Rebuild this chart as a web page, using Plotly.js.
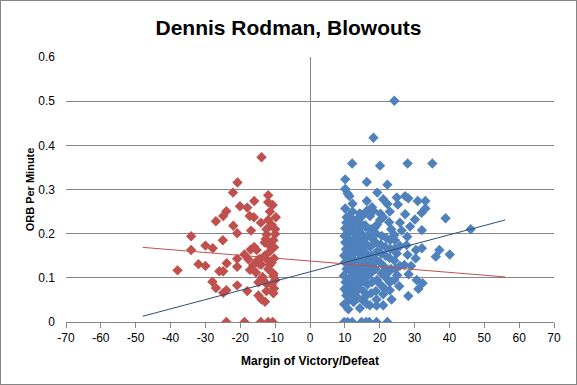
<!DOCTYPE html>
<html>
<head>
<meta charset="utf-8">
<script src="https://cdn.plot.ly/plotly-3.0.1.min.js"></script>
<style>
  html, body { margin: 0; padding: 0; background: #fff; }
  #chart { width: 575px; height: 383px; border: 1px solid #868686; }
</style>
</head>
<body>
<div id="chart"></div>
<script>
// Losses (red): margin of defeat vs ORB per minute
const redX = [-13.9,-20.8,-22.1,-12.0,-16.0,-12.0,-20.1,-18.0,-24.0,-10.7,
  -24.9,-17.3,-16.1,-9.8,-27.0,-22.0,-14.1,-12.0,-16.9,-20.9,
  -12.4,-10.0,-34.1,-25.0,-12.7,-30.0,-27.9,-34.1,-12.0,-10.3,
  -17.0,-15.3,-18.8,-20.9,-17.7,-14.4,-12.2,-10.3,-23.9,-32.0,
  -30.0,-20.9,-16.3,-14.5,-11.5,-38.0,-26.0,-24.9,-17.2,-15.5,
  -13.6,-10.5,-10.0,-28.0,-14.8,-20.9,-12.4,-27.0,-18.0,-10.3,
  -24.0,-24.9,-14.8,-13.9,-12.9,-24.0,-18.8,-14.1,-12.0,-10.7];
const redY = [0.373,0.316,0.293,0.287,0.274,0.271,0.262,0.259,0.251,0.265,
  0.240,0.240,0.237,0.237,0.228,0.218,0.225,0.231,0.207,0.201,
  0.198,0.199,0.194,0.185,0.188,0.173,0.167,0.163,0.176,0.169,
  0.164,0.163,0.153,0.143,0.142,0.143,0.140,0.144,0.133,0.131,
  0.127,0.125,0.129,0.131,0.129,0.117,0.115,0.115,0.118,0.112,
  0.102,0.110,0.095,0.091,0.090,0.083,0.086,0.077,0.070,0.076,
  0.072,0.066,0.060,0.051,0.046,0,0,0,0,0];
const redX2 = [-11.0,-12.5,-10.5,-11.5,-13.0,-11.0,-12.0,-10.5,-13.5,-11.0,-12.5,-10.5,-14.0,-15.0,-16.0,-13.0,-11.5,-10.0];
const redY2 = [0.220,0.210,0.185,0.160,0.150,0.135,0.120,0.105,0.095,0.085,0.070,0.065,0.130,0.140,0.170,0.180,0.250,0.210];

// Wins (blue): scattered points
const blueX = [24.2,18.2,12.1,20.1,28.0,35.1,
  10.1,16.3,22.2,10.1,10.8,19.3,11.3,21.0,27.3,24.9,16.3,28.2,12.2,22.2,
  25.2,30.9,33.1,10.1,12.2,16.3,18.2,14.3,22.9,27.3,33.1,32.0,38.9,30.1,
  21.0,20.1,17.2,10.5,13.4,22.7,25.8,28.7,32.1,46.1,10.1,12.4,15.8,18.6,
  24.2,26.3,27.9,32.1,37.1,36.1,40.1,30.4,27.7,25.8,24.9,28.0,30.3,24.2,
  25.8,27.1,29.0,22.7,25.0,28.3,30.6,32.3,31.1,25.6,22.9,28.2,21.0,19.1,
  23.4,21.0,17.2,14.3,11.0,19.1,16.3,
  9.8,10.8,12.1,14.8,16.1,17.0,19.1,22.2];
const blueY = [0.501,0.417,0.359,0.354,0.359,0.359,
  0.323,0.317,0.311,0.301,0.291,0.293,0.285,0.278,0.285,0.282,0.274,0.280,0.268,0.267,
  0.266,0.274,0.274,0.257,0.250,0.252,0.252,0.246,0.250,0.244,0.257,0.247,0.235,0.232,
  0.237,0.231,0.240,0.237,0.232,0.226,0.225,0.216,0.208,0.210,0.212,0.216,0.219,0.214,
  0.197,0.207,0.193,0.167,0.163,0.148,0.153,0.163,0.174,0.172,0.155,0.152,0.144,0.139,
  0.127,0.129,0.127,0.114,0.106,0.108,0.095,0.088,0.075,0.081,0.072,0.059,0.063,0.051,
  0.051,0.038,0.038,0.031,0.029,0.037,0.041,
  0,0,0,0,0,0,0,0];
// Wins (blue): dense cluster at margins 10-25
const blueX2 = [9.8,10.4,9.9,10.2,9.7,10.5,10.0,9.8,10.3,10.1,9.9,10.4,
  11.2,11.6,11.0,11.4,11.7,11.1,11.5,11.3,11.8,11.0,11.4,11.6,11.2,
  12.5,12.8,12.4,12.9,12.6,12.3,12.7,12.5,12.9,12.4,12.8,12.6,
  13.7,14.0,13.6,13.9,14.1,13.8,13.5,14.0,13.7,13.9,14.2,
  15.0,15.3,14.8,15.2,15.4,14.9,15.1,15.3,14.8,15.0,
  16.2,16.5,16.0,16.4,16.6,16.1,16.3,16.5,16.0,
  17.5,17.8,17.4,17.9,17.6,17.3,17.7,17.5,17.8,
  18.9,19.2,18.8,19.1,19.3,18.9,19.0,19.2,
  20.2,20.5,20.1,20.4,20.3,20.6,20.2,
  21.5,21.8,21.4,21.7,21.6,21.9,
  22.9,23.2,22.8,23.1,23.0,23.3,
  24.2,24.5,24.1,24.4,
  10.6,11.9,13.1,10.7,12.0,13.3,10.9,12.2,11.5,14.4];
const blueY2 = [0.040,0.060,0.075,0.090,0.105,0.120,0.135,0.150,0.165,0.180,0.195,0.225,
  0.050,0.070,0.085,0.100,0.115,0.130,0.145,0.160,0.175,0.190,0.205,0.220,0.240,
  0.045,0.065,0.080,0.095,0.110,0.125,0.140,0.155,0.170,0.185,0.200,0.230,
  0.055,0.075,0.090,0.105,0.120,0.140,0.160,0.175,0.190,0.210,0.225,
  0.050,0.070,0.090,0.110,0.130,0.150,0.165,0.185,0.200,0.240,
  0.060,0.085,0.100,0.120,0.140,0.155,0.175,0.195,0.215,
  0.065,0.090,0.110,0.130,0.150,0.170,0.190,0.210,0.260,
  0.070,0.095,0.120,0.140,0.160,0.180,0.200,0.220,
  0.085,0.110,0.135,0.155,0.175,0.195,0.245,
  0.075,0.100,0.125,0.150,0.170,0.190,
  0.090,0.120,0.145,0.165,0.185,0.210,
  0.095,0.120,0.165,0.185,
  0.068,0.098,0.128,0.158,0.112,0.082,0.188,0.142,0.058,0.238];

// Linear trendlines (endpoints)
const trendX = [-48, 56];
const redTrendY = [0.169, 0.102];
const blueTrendY = [0.013, 0.231];

// Axis tick labels (hyphen-minus as in the original)
const xTickVals = [-70,-60,-50,-40,-30,-20,-10,0,10,20,30,40,50,60,70];
const xTickText = ['-70','-60','-50','-40','-30','-20','-10','0','10','20','30','40','50','60','70'];

const RED = '#C0504D', BLUE = '#4F81BD';
const GRID = '#868686';
const FONT = 'Liberation Sans, Arial, sans-serif';

const mk = (c) => ({symbol: 'diamond', size: 8, color: c, line: {width: 0}});

const traces = [
  {x: redX.concat(redX2), y: redY.concat(redY2), mode: 'markers', type: 'scatter', marker: mk(RED)},
  {x: blueX.concat(blueX2), y: blueY.concat(blueY2), mode: 'markers', type: 'scatter', marker: mk(BLUE)},
  {x: trendX, y: redTrendY, mode: 'lines', type: 'scatter', line: {color: RED, width: 1}},
  {x: trendX, y: blueTrendY, mode: 'lines', type: 'scatter', line: {color: '#2C4D75', width: 1}}
];

const layout = {
  width: 575, height: 383,
  margin: {l: 65, r: 22, t: 56, b: 62, pad: 0},
  paper_bgcolor: '#fff', plot_bgcolor: '#fff',
  showlegend: false,
  font: {family: FONT, size: 12, color: '#000'},
  title: {
    text: 'Dennis Rodman, Blowouts',
    font: {family: FONT, size: 21, color: '#000', weight: 'bold'},
    x: 0.5, xanchor: 'center', xref: 'container',
    y: 1 - 27 / 383, yanchor: 'middle', yref: 'container'
  },
  xaxis: {
    range: [-70, 70], tickmode: 'array', tickvals: xTickVals, ticktext: xTickText,
    showgrid: false,
    zeroline: true, zerolinecolor: GRID, zerolinewidth: 1,
    showline: true, linecolor: GRID, linewidth: 1,
    ticks: 'outside', ticklen: 5, tickcolor: GRID, tickwidth: 1,
    tickfont: {family: FONT, size: 12, color: '#000'},
    title: {text: 'Margin of Victory/Defeat', font: {family: FONT, size: 12, color: '#000', weight: 'bold'}, standoff: 12}
  },
  yaxis: {
    range: [0, 0.6], tick0: 0, dtick: 0.1,
    showgrid: true, gridcolor: GRID, gridwidth: 1,
    zeroline: false, showline: false, ticks: '',
    ticklabelstandoff: 10,
    tickfont: {family: FONT, size: 12, color: '#000'},
    title: {text: 'ORB Per Minute', font: {family: FONT, size: 11, color: '#000', weight: 'bold'}, standoff: 1}
  }
};

Plotly.newPlot('chart', traces, layout, {displayModeBar: false, staticPlot: true});
</script>
</body>
</html>
